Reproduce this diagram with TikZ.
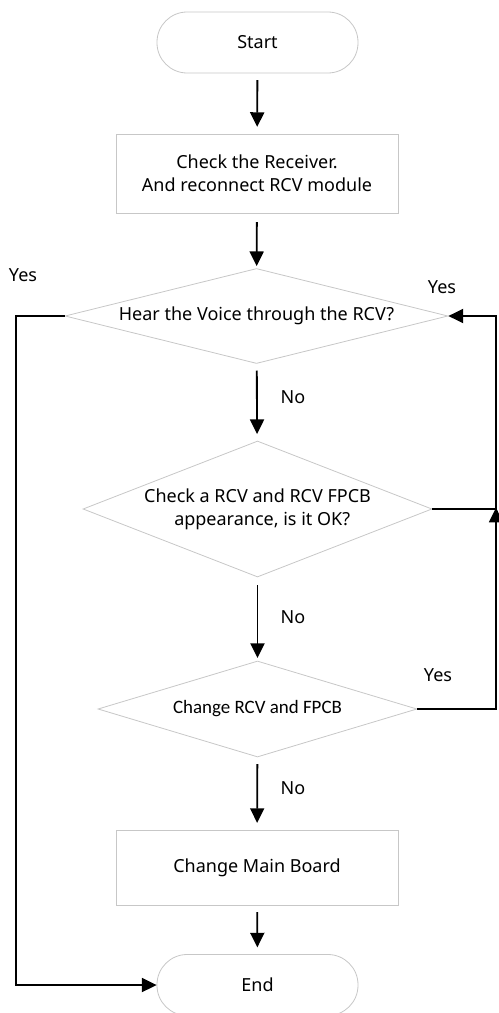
\documentclass[tikz,border=0pt]{standalone}
\usepackage{fontspec}
\setmainfont{Noto Sans}
\newfontfamily\carl{Carlito}
\usetikzlibrary{shapes.geometric,arrows.meta}
\begin{document}
\begin{tikzpicture}[x=0.75pt,y=-0.75pt,
  shapeline/.style={draw=black!22,line width=0.6pt},
  term/.style={shapeline,rectangle,rounded corners=22.6pt,minimum width=150.75pt,minimum height=45.75pt,inner sep=0pt},
  procbox/.style={shapeline,rectangle,minimum width=211.5pt,inner sep=0pt},
  dia/.style={shapeline,diamond,inner sep=0pt},
  txt/.style={font=\fontsize{13.5}{17.25}\selectfont,align=center,inner sep=0pt},
  lbl/.style={font=\fontsize{13.5}{17.25}\selectfont,inner sep=0pt},
  conn/.style={line width=1.4pt,black},
  arr/.style={conn,-{Triangle[length=11pt,width=10.5pt]}},
  gap/.style={shorten <=5pt,shorten >=5pt}
]
\useasboundingbox (0,0) rectangle (499,1013);
% shapes
\node[term] (start) at (257.5,42.5) {};
\node[txt] (startt) at (start) {Start};
\node[procbox,minimum height=59.25pt] (box1) at (257,173.5) {};
\node[txt] (box1t) at (box1) {Check the Receiver.\\And reconnect RCV module};
\node[dia,minimum width=287.25pt,minimum height=71.25pt] (d1) at (256.5,316) {};
\node[txt] (d1t) at (d1) {Hear the Voice through the RCV?};
\node[dia,minimum width=261.75pt,minimum height=102pt] (d2) at (257.5,509) {};
\node[txt] (d2t) at (d2) {Check a RCV and RCV FPCB\\\ \ appearance, is it OK?};
\node[dia,minimum width=239.25pt,minimum height=72pt] (d3) at (257.5,709) {};
\node[txt,font=\carl\fontsize{14.2}{17.25}\selectfont] (d3t) at (d3) {Change RCV and FPCB};
\node[procbox,minimum height=56.25pt] (box2) at (257,867.5) {};
\node[txt] (box2t) at (box2) {Change Main Board};
\node[term] (end) at (257.5,985) {};
\node[txt] (endt) at (end) {End};
% routing points
\coordinate (lt) at (16,316);
\coordinate (lb) at (16,985);
\coordinate (rt) at (496,316);
\coordinate (rm) at (496,509);
\coordinate (rb) at (496,709);
% connectors
\draw[arr,gap] (start) -- (box1);
\draw[arr,shorten <=6.5pt,shorten >=1.5pt] (box1) -- (d1);
\draw[arr,gap] (d1) -- (d2);
\draw[arr,shorten <=6pt,shorten >=2pt] (d2) -- (d3);
\draw[arr,gap] (d3) -- (box2);
\draw[arr,gap] (box2) -- (end);
\draw[arr] (d1.west) -- (lt) -- (lb) -- (end.west);
\draw[arr] (d2.east) -- (rm) -- (rt) -- (d1.east);
\draw[arr,shorten >=-1pt] (d3.east) -- (rb) -- (rm);
% labels
\node[lbl] (yes1) at (23,275) {Yes};
\node[lbl] (yes2) at (442,287) {Yes};
\node[lbl] (no1) at (293,397) {No};
\node[lbl] (no2) at (293,617) {No};
\node[lbl] (yes3) at (438,675) {Yes};
\node[lbl] (no3) at (293,788) {No};
\end{tikzpicture}
\end{document}
